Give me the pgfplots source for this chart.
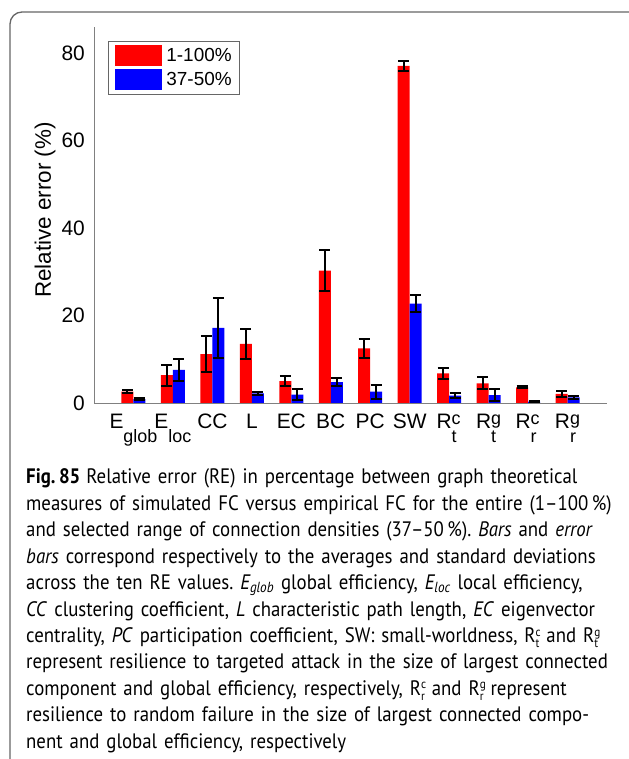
\documentclass[border=0pt]{standalone}
\usepackage{fontspec}
\setmainfont{Liberation Sans}
\newfontfamily\capfont[FakeStretch=0.9]{PT Sans}
\usepackage{pgfplots}
\pgfplotsset{compat=1.18}
\usepackage{pgfplotstable}
\frenchspacing

% mean relative error and its standard deviation, 1-100% density range
\pgfplotstableread{
x y e
1 2.6 0.4
2 6.4 2.4
3 11.2 4.2
4 13.5 3.4
5 5.0 1.1
6 30.3 4.6
7 12.5 2.2
8 77.1 1.1
9 6.8 1.2
10 4.5 1.4
11 3.6 0.2
12 2.1 0.7
}\fullrange

% same for 37-50% density range
\pgfplotstableread{
x y e
1 0.9 0.2
2 7.6 2.5
3 17.2 6.8
4 2.2 0.3
5 1.9 1.2
6 4.8 1.0
7 2.6 1.6
8 22.7 1.9
9 1.7 0.5
10 1.8 1.3
11 0.3 0.1
12 1.3 0.3
}\selrange

\newcommand{\scr}{\fontsize{18}{18}\selectfont}
\newcommand{\sub}[1]{\raisebox{-14bp}{\scr #1}}
\newcommand{\supsub}[2]{\rlap{\raisebox{4bp}{\scr #1}}\makebox[10bp][l]{\raisebox{-14bp}{\scr #2}}}
% R with stacked scripts for the caption
\newcommand{\Rs}[2]{R\rlap{\raisebox{0.6ex}{\fontsize{12.5}{12.5}\selectfont #1}}\raisebox{-0.5ex}{\fontsize{12.5}{12.5}\selectfont #2}}

\begin{document}
\begin{tikzpicture}
\useasboundingbox (0bp,0bp) rectangle (629bp,759bp);
\begin{scope}
\clip (0bp,0bp) rectangle (629bp,759bp);
\draw[black!60, line width=1.3bp, rounded corners=12bp] (10bp,-12bp) rectangle (642bp,747bp);
\end{scope}

\begin{axis}[
    at={(94bp,356bp)}, anchor=south west,
    scale only axis,
    width=513bp, height=376bp,
    xmin=0, xmax=13, ymin=0, ymax=86,
    axis x line=bottom, axis y line=left,
    axis line style={-, black!50, line width=0.9bp},
    major tick length=0pt,
    ytick={0,20,40,60,80},
    xtick={1,...,12},
    xticklabels={E\sub{glob}, E\sub{loc}, CC, L, EC, BC, PC, SW,
        R\supsub{c}{t}, R\supsub{g}{t}, R\supsub{c}{r}, R\supsub{g}{r}},
    /pgf/number format/assume math mode=true,
    yticklabel style={font=\fontsize{21}{21}\selectfont, inner sep=0pt, anchor=east, xshift=-9bp},
    xticklabel style={font=\fontsize{21}{21}\selectfont, inner sep=0pt, anchor=north, text height=15bp, yshift=-10bp},
    ylabel={Relative error (\%)},
    ylabel style={font=\fontsize{22.5}{22.5}\selectfont, at={(axis description cs:0,0.513)}, anchor=center, yshift=49bp},
    ybar=0pt, bar width=12bp,
    legend style={at={(axis description cs:0,1)}, anchor=north west, xshift=14bp, yshift=-14bp,
        draw=black!60, line width=0.8bp, fill=white,
        font=\fontsize{19}{19}\selectfont, inner xsep=7bp, inner ysep=4bp,
        row sep=3bp, column sep=3bp, nodes={inner sep=1bp, anchor=west}},
    legend image code/.code={\fill[#1, draw=none] (0bp,-10.5bp) rectangle (47bp,10.5bp);},
    error bars/error bar style={black, line width=2bp},
    error bars/error mark options={rotate=90, mark size=5.5bp, line width=2bp, black},
]
\addplot[fill=red, draw=none, error bars/.cd, y dir=both, y explicit]
    table[x=x, y=y, y error=e] {\fullrange};
\addplot[fill=blue, draw=none, error bars/.cd, y dir=both, y explicit]
    table[x=x, y=y, y error=e] {\selrange};
\legend{1-100\%, 37-50\%}
\end{axis}

\node[anchor=base west, inner sep=0pt, text width=700bp, align=left,
      font=\capfont\fontsize{21}{26.5}\selectfont] at (26bp,275bp) {%
\textbf{Fig.\,85}\hspace{6bp}Relative error (RE) in percentage between graph theoretical\\
measures of simulated FC versus empirical FC for the entire (1–100\,\%)\\
and selected range of connection densities (37–50\,\%). \textit{Bars} and \textit{error}\\
\textit{bars} correspond respectively to the averages and standard deviations\\
across the ten RE values. \textit{E\textsubscript{glob}} global efficiency, \textit{E\textsubscript{loc}} local efficiency,\\
\textit{CC} clustering coefficient, \textit{L} characteristic path length, \textit{EC} eigenvector\\
centrality, \textit{PC} participation coefficient, SW: small-worldness, \Rs{c}{t} and \Rs{g}{t}\\
represent resilience to targeted attack in the size of largest connected\\
component and global efficiency, respectively, \Rs{c}{r} and \Rs{g}{r} represent\\
resilience to random failure in the size of largest connected compo-\\
nent and global efficiency, respectively};
\end{tikzpicture}
\end{document}
